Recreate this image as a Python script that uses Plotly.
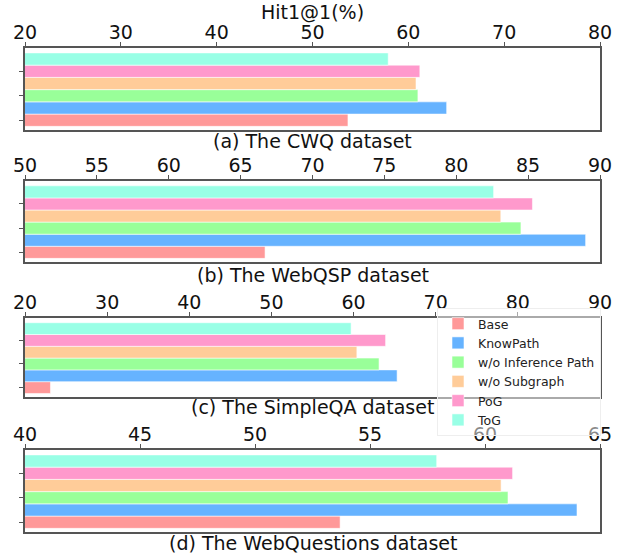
import plotly.graph_objects as go

methods = ["Base", "KnowPath", "w/o Inference Path", "w/o Subgraph", "PoG", "ToG"]
colors = ["#ff9999", "#66b3ff", "#99ff99", "#ffcc99", "#ff99cc", "#99ffe6"]

datasets = ["(a) The CWQ dataset", "(b) The WebQSP dataset",
            "(c) The SimpleQA dataset", "(d) The WebQuestions dataset"]
cwq = [53.7, 64.0, 61.0, 60.8, 61.2, 57.9]
webqsp = [66.7, 89.0, 84.5, 83.1, 85.3, 82.6]
simpleqa = [23.1, 65.3, 63.1, 60.4, 63.9, 59.7]
webquestions = [53.7, 64.0, 61.0, 60.7, 61.2, 57.9]
values = [cwq, webqsp, simpleqa, webquestions]

x_ranges = [[20, 80], [50, 90], [20, 90], [40, 65]]
x_dticks = [10, 5, 10, 5]

W, H = 628, 556
ML, MR = 25, 28
# panel boxes in pixels from top (top, bottom)
boxes = [(48, 130), (181, 262), (318, 397), (450, 532)]
label_y = [141, 275, 407, 543]

FONT = "DejaVu Sans"
fig = go.Figure()

for p, vals in enumerate(values):
    ax = "" if p == 0 else str(p + 1)
    for i, (m, c) in enumerate(zip(methods, colors)):
        fig.add_trace(go.Bar(
            y=[i], x=[vals[i]], orientation="h", width=1,
            name=m, legendgroup=m, showlegend=(p == 0),
            marker=dict(color=c, line=dict(color="rgba(255,255,255,0.7)", width=0.8)),
            xaxis="x" + ax, yaxis="y" + ax,
        ))
    top, bot = boxes[p]
    dom = [1 - bot / H, 1 - top / H]
    xa = dict(range=x_ranges[p], dtick=x_dticks[p], side="top", anchor="y" + ax,
              showline=True, linecolor="#555", linewidth=1.5, mirror=True,
              ticks="outside", ticklen=4, tickcolor="#555", showgrid=False,
              zeroline=False, automargin=False, ticklabelstandoff=-4,
              tickfont=dict(family=FONT, size=19, color="#111"))
    ya = dict(domain=dom, range=[-0.8, 5.9], anchor="x" + ax, automargin=False,
              tickvals=[0, 2, 4], showticklabels=False, ticks="outside", ticklen=4,
              tickcolor="#555", showline=True, linecolor="#555", linewidth=1.5,
              mirror=True, showgrid=False, zeroline=False)
    fig.update_layout(**{"xaxis" + ax: xa, "yaxis" + ax: ya})
    fig.add_annotation(text=datasets[p], xref="paper", yref="paper",
                       x=0.5, y=1 - label_y[p] / H, showarrow=False,
                       xanchor="center", yanchor="middle",
                       font=dict(family=FONT, size=19, color="#111"))

fig.add_annotation(text="Hit1@1(%)", xref="paper", yref="paper", x=0.5, y=1 - 12 / H,
                   showarrow=False, xanchor="center", yanchor="middle",
                   font=dict(family=FONT, size=19, color="#111"))

fig.update_layout(
    width=W, height=H, margin=dict(l=ML, r=MR, t=0, b=0, autoexpand=False),
    paper_bgcolor="white", plot_bgcolor="white", barmode="overlay",
    font=dict(family=FONT, color="#111"),
    legend=dict(x=(437 - ML) / (W - ML - MR), y=1 - 308 / H, xanchor="left", yanchor="top",
                traceorder="normal", bgcolor="rgba(255,255,255,0.5)",
                bordercolor="#eeeeee", borderwidth=1,
                font=dict(family=FONT, size=12.5, color="#222"), tracegroupgap=0),
)

fig.write_html("out.html", config={"displayModeBar": False},
               post_script="document.body.style.margin='0';document.body.style.overflow='hidden';")
